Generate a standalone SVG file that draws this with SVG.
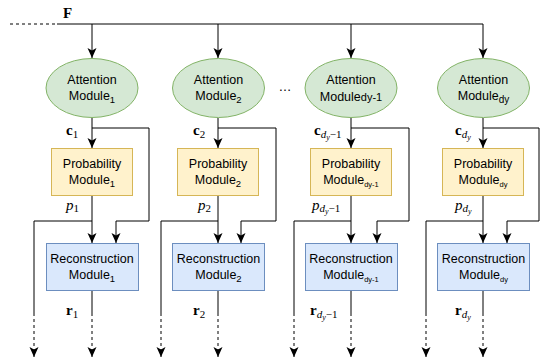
<svg xmlns="http://www.w3.org/2000/svg" width="542" height="364" viewBox="0 0 542 364">
<style>
.att{fill:#d5e8d4;stroke:#82b366;stroke-width:1}
.prob{fill:#fff2cc;stroke:#d6b656;stroke-width:1}
.rec{fill:#dae8fc;stroke:#6c8ebf;stroke-width:1}
.t{font-family:"Liberation Sans",Arial,sans-serif;font-size:12.5px;fill:#000;text-anchor:middle}
.m{font-family:"Liberation Serif","Times New Roman",serif;font-size:15px;fill:#000}
.b{font-weight:bold}
.i{font-style:italic}
.ln{fill:none;stroke:#000;stroke-width:1}
.ds{stroke-dasharray:3 3}
</style>
<defs>
<marker id="ah" viewBox="0 0 10 10" refX="10" refY="5" markerWidth="10" markerHeight="10" markerUnits="userSpaceOnUse" orient="auto">
<path d="M0,0.5 L10,5 L0,9.5 L2.5,5 Z" fill="#000"/>
</marker>
</defs>
<g id="connectors">
<path class="ln ds" d="M10,24 H57"/>
<path class="ln" d="M57,24 H483"/>
<path class="ln" d="M92,24 V58" marker-end="url(#ah)"/>
<path class="ln" d="M218,24 V58" marker-end="url(#ah)"/>
<path class="ln" d="M351,24 V58" marker-end="url(#ah)"/>
<path class="ln" d="M483,24 V58" marker-end="url(#ah)"/>
<path class="ln" d="M92,118 V148" marker-end="url(#ah)"/>
<path class="ln" d="M218,118 V148" marker-end="url(#ah)"/>
<path class="ln" d="M351,118 V148" marker-end="url(#ah)"/>
<path class="ln" d="M483,118 V148" marker-end="url(#ah)"/>
<path class="ln" d="M92,128 H149 V221 H116 V243" marker-end="url(#ah)"/>
<path class="ln" d="M218,128 H276 V221 H241 V243" marker-end="url(#ah)"/>
<path class="ln" d="M351,128 H409 V221 H377 V243" marker-end="url(#ah)"/>
<path class="ln" d="M483,128 H539 V221 H507 V243" marker-end="url(#ah)"/>
<path class="ln" d="M92,196 V243" marker-end="url(#ah)"/>
<path class="ln" d="M218,196 V243" marker-end="url(#ah)"/>
<path class="ln" d="M351,196 V243" marker-end="url(#ah)"/>
<path class="ln" d="M483,196 V243" marker-end="url(#ah)"/>
<path class="ln" d="M92,221 H34 V313"/>
<path class="ln" d="M218,221 H161 V313"/>
<path class="ln" d="M351,221 H294 V313"/>
<path class="ln" d="M483,221 H426 V313"/>
<path class="ln ds" d="M34,313 V357" marker-end="url(#ah)"/>
<path class="ln ds" d="M161,313 V357" marker-end="url(#ah)"/>
<path class="ln ds" d="M294,313 V357" marker-end="url(#ah)"/>
<path class="ln ds" d="M426,313 V357" marker-end="url(#ah)"/>
<path class="ln" d="M92,290 V313"/>
<path class="ln" d="M218,290 V313"/>
<path class="ln" d="M351,290 V313"/>
<path class="ln" d="M483,290 V313"/>
<path class="ln ds" d="M92,313 V357" marker-end="url(#ah)"/>
<path class="ln ds" d="M218,313 V357" marker-end="url(#ah)"/>
<path class="ln ds" d="M351,313 V357" marker-end="url(#ah)"/>
<path class="ln ds" d="M483,313 V357" marker-end="url(#ah)"/>
</g>
<g id="labels">
<text class="m b" x="63" y="18" font-size="16">F</text>
<text x="285" y="91" font-family="Liberation Sans,Arial,sans-serif" font-size="13" text-anchor="middle">…</text>
<text class="m" x="66" y="135"><tspan class="b">c</tspan><tspan font-size="11" dy="3">1</tspan></text>
<text class="m" x="193" y="135"><tspan class="b">c</tspan><tspan font-size="11" dy="3">2</tspan></text>
<text class="m" x="314" y="135"><tspan class="b">c</tspan><tspan class="i" font-size="11" dy="3">d</tspan><tspan class="i" font-size="8" dy="2">y</tspan><tspan font-size="11" dy="-2">−1</tspan></text>
<text class="m" x="455" y="135"><tspan class="b">c</tspan><tspan class="i" font-size="11" dy="3">d</tspan><tspan class="i" font-size="8" dy="2">y</tspan></text>
<text class="m" x="66" y="210"><tspan class="i">p</tspan><tspan font-size="11" dy="2">1</tspan></text>
<text class="m" x="198" y="210"><tspan class="i">p</tspan><tspan font-size="11" dy="2">2</tspan></text>
<text class="m" x="312" y="210"><tspan class="i">p</tspan><tspan class="i" font-size="11" dy="2">d</tspan><tspan class="i" font-size="8" dy="2">y</tspan><tspan font-size="11" dy="-2">−1</tspan></text>
<text class="m" x="455" y="210"><tspan class="i">p</tspan><tspan class="i" font-size="11" dy="2">d</tspan><tspan class="i" font-size="8" dy="2">y</tspan></text>
<text class="m" x="66" y="315"><tspan class="b">r</tspan><tspan font-size="11" dy="3">1</tspan></text>
<text class="m" x="193" y="315"><tspan class="b">r</tspan><tspan font-size="11" dy="3">2</tspan></text>
<text class="m" x="310" y="315"><tspan class="b">r</tspan><tspan class="i" font-size="11" dy="3">d</tspan><tspan class="i" font-size="8" dy="2">y</tspan><tspan font-size="11" dy="-2">−1</tspan></text>
<text class="m" x="455" y="315"><tspan class="b">r</tspan><tspan class="i" font-size="11" dy="3">d</tspan><tspan class="i" font-size="8" dy="2">y</tspan></text>
</g>
<g id="att1"><ellipse class="att" cx="92" cy="88" rx="46" ry="29.5"/><text class="t" x="92" y="84">Attention</text><text class="t" x="92" y="100">Module<tspan font-size="9.5" dy="3">1</tspan></text></g>
<g id="att2"><ellipse class="att" cx="218.5" cy="88" rx="46" ry="29.5"/><text class="t" x="218.5" y="84">Attention</text><text class="t" x="218.5" y="100">Module<tspan font-size="9.5" dy="3">2</tspan></text></g>
<g id="att3"><ellipse class="att" cx="351" cy="88" rx="46" ry="29.5"/><text class="t" x="351" y="84">Attention</text><text class="t" x="351" y="101">Module<tspan font-size="11">dy-1</tspan></text></g>
<g id="att4"><ellipse class="att" cx="483.5" cy="88" rx="46" ry="29.5"/><text class="t" x="483.5" y="84">Attention</text><text class="t" x="483.5" y="100">Module<tspan font-size="10" dy="3">dy</tspan></text></g>
<g id="prob1"><rect class="prob" x="51.5" y="148.5" width="81" height="47"/><text class="t" x="92" y="168">Probability</text><text class="t" x="92" y="184">Module<tspan font-size="9.5" dy="3">1</tspan></text></g>
<g id="prob2"><rect class="prob" x="177.5" y="148.5" width="81" height="47"/><text class="t" x="218" y="168">Probability</text><text class="t" x="218" y="184">Module<tspan font-size="9.5" dy="3">2</tspan></text></g>
<g id="prob3"><rect class="prob" x="310.5" y="148.5" width="81" height="47"/><text class="t" x="351" y="168">Probability</text><text class="t" x="351" y="184">Module<tspan font-size="7.5" dy="3">dy-1</tspan></text></g>
<g id="prob4"><rect class="prob" x="442.5" y="148.5" width="81" height="47"/><text class="t" x="483" y="168">Probability</text><text class="t" x="483" y="184">Module<tspan font-size="7.5" dy="3">dy</tspan></text></g>
<g id="rec1"><rect class="rec" x="46.5" y="243.5" width="92" height="47"/><text class="t" x="92" y="263">Reconstruction</text><text class="t" x="92" y="279">Module<tspan font-size="9.5" dy="3">1</tspan></text></g>
<g id="rec2"><rect class="rec" x="172.5" y="243.5" width="92" height="47"/><text class="t" x="218.5" y="263">Reconstruction</text><text class="t" x="218.5" y="279">Module<tspan font-size="9.5" dy="3">2</tspan></text></g>
<g id="rec3"><rect class="rec" x="305.5" y="243.5" width="92" height="47"/><text class="t" x="351" y="263">Reconstruction</text><text class="t" x="351" y="279">Module<tspan font-size="7.5" dy="3">dy-1</tspan></text></g>
<g id="rec4"><rect class="rec" x="437.5" y="243.5" width="92" height="47"/><text class="t" x="483.5" y="263">Reconstruction</text><text class="t" x="483.5" y="279">Module<tspan font-size="7.5" dy="3">dy</tspan></text></g>
</svg>
